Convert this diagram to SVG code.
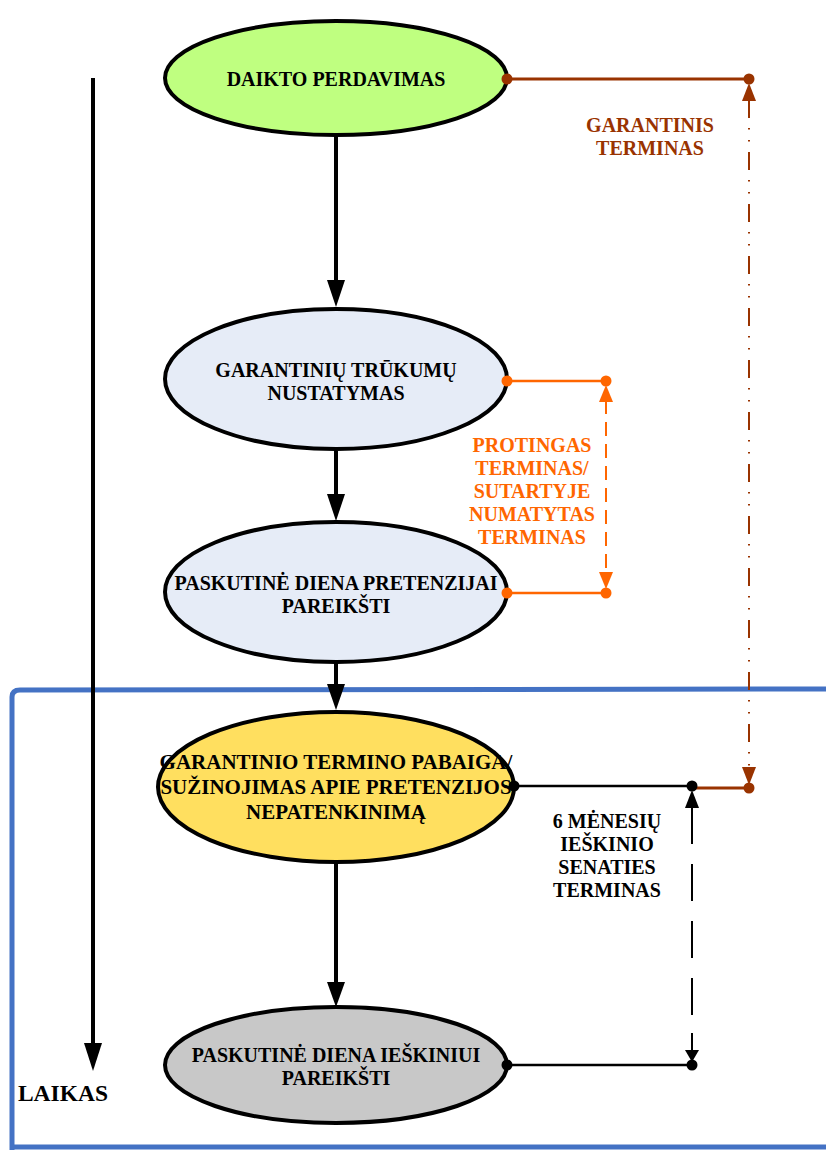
<svg xmlns="http://www.w3.org/2000/svg" width="826" height="1150" viewBox="0 0 826 1150">
<style>
.n{stroke:#000;stroke-width:4}
.t{font-family:"Liberation Serif",serif;font-weight:bold;font-size:20px;text-anchor:middle;fill:#000}
.lb{font-family:"Liberation Serif",serif;font-weight:bold;font-size:20px;text-anchor:middle}
.ar{stroke:#000;stroke-width:4;fill:none}
</style>
<rect width="826" height="1150" fill="#fff"/>
<g id="frame">
<path d="M12,1150 L12,697 Q12,690 20,690 L826,689" fill="none" stroke="#4472C4" stroke-width="5"/>
<path d="M12,1147 L826,1147" stroke="#4472C4" stroke-width="5"/>
</g>
<g id="timeline">
<line x1="93" y1="78" x2="93" y2="1045" stroke="#000" stroke-width="4"/>
<path d="M84,1043 L102,1043 L93,1071 Z" fill="#000"/>
<text x="63" y="1101" font-family="Liberation Serif,serif" font-weight="bold" font-size="23.5" text-anchor="middle">LAIKAS</text>
</g>
<g id="n1"><ellipse cx="336" cy="78" rx="171" ry="57" fill="#BFFF80" class="n"/><text class="t" x="336" y="86">DAIKTO PERDAVIMAS</text></g>
<g id="n2"><ellipse cx="336" cy="379" rx="171" ry="70" fill="#E6ECF7" class="n"/><text class="t"><tspan x="336" y="377">GARANTINIŲ TRŪKUMŲ</tspan><tspan x="336" y="400">NUSTATYMAS</tspan></text></g>
<g id="n3"><ellipse cx="336" cy="592" rx="171" ry="70" fill="#E6ECF7" class="n"/><text class="t"><tspan x="336" y="590">PASKUTINĖ DIENA PRETENZIJAI</tspan><tspan x="336" y="613">PAREIKŠTI</tspan></text></g>
<g id="n4"><ellipse cx="336" cy="787" rx="178" ry="75" fill="#FFDF5F" class="n"/><text class="t" style="font-size:21px"><tspan x="336" y="769">GARANTINIO TERMINO PABAIGA/</tspan><tspan x="336" y="794">SUŽINOJIMAS APIE PRETENZIJOS</tspan><tspan x="336" y="819">NEPATENKINIMĄ</tspan></text></g>
<g id="n5"><ellipse cx="336" cy="1065" rx="171" ry="58" fill="#C8C8C8" class="n"/><text class="t"><tspan x="336" y="1062">PASKUTINĖ DIENA IEŠKINIUI</tspan><tspan x="336" y="1085">PAREIKŠTI</tspan></text></g>
<g id="connectors">
<line x1="336" y1="137" x2="336" y2="282" class="ar"/><path d="M327,280 L345,280 L336,307 Z"/>
<line x1="336" y1="451" x2="336" y2="496" class="ar"/><path d="M327,494 L345,494 L336,521 Z"/>
<line x1="336" y1="663" x2="336" y2="688" class="ar"/><path d="M327,684 L345,684 L336,710 Z"/>
<line x1="336" y1="863" x2="336" y2="984" class="ar"/><path d="M327,982 L345,982 L336,1007 Z"/>
<g stroke="#993300" fill="#993300">
<line x1="507" y1="79" x2="749" y2="79" stroke-width="3"/>
<line x1="749" y1="100" x2="749" y2="768" stroke-width="2" stroke-dasharray="18 10 1.5 10.5 1.5 10.5"/>
<path d="M742,101 L756,101 L749,83 Z" stroke="none"/>
<path d="M742,767 L756,767 L749,785 Z" stroke="none"/>
<line x1="692" y1="788" x2="749" y2="788" stroke-width="3"/>
<circle cx="507" cy="79" r="5.5" stroke="none"/>
<circle cx="749" cy="79" r="5.5" stroke="none"/>
<circle cx="749" cy="788" r="5.5" stroke="none"/>
</g>
<g stroke="#FF6600" fill="#FF6600">
<line x1="507" y1="381" x2="606" y2="381" stroke-width="2.5"/>
<line x1="507" y1="593" x2="606" y2="593" stroke-width="2.5"/>
<line x1="606" y1="400" x2="606" y2="574" stroke-width="2" stroke-dasharray="14 8"/>
<path d="M599,402 L613,402 L606,385 Z" stroke="none"/>
<path d="M599,572 L613,572 L606,589 Z" stroke="none"/>
<circle cx="507" cy="381" r="5.5" stroke="none"/>
<circle cx="606" cy="381" r="5.5" stroke="none"/>
<circle cx="507" cy="593" r="5.5" stroke="none"/>
<circle cx="606" cy="593" r="5.5" stroke="none"/>
</g>
<g stroke="#000" fill="#000">
<line x1="514" y1="786" x2="692" y2="786" stroke-width="2.5"/>
<line x1="507" y1="1065" x2="692" y2="1065" stroke-width="2.5"/>
<line x1="692" y1="807" x2="692" y2="1045" stroke-width="2" stroke-dasharray="37 20"/>
<path d="M685,808 L699,808 L692,790 Z" stroke="none"/>
<path d="M685,1050 L699,1050 L692,1062 Z" stroke="none"/>
<line x1="692" y1="1033" x2="692" y2="1052" stroke-width="2"/>
<circle cx="514" cy="786" r="5.5" stroke="none"/>
<circle cx="692" cy="786" r="5.5" stroke="none"/>
<circle cx="507" cy="1065" r="5.5" stroke="none"/>
<circle cx="692" cy="1065" r="5.5" stroke="none"/>
</g>
<text class="lb" fill="#993300"><tspan x="650" y="132">GARANTINIS</tspan><tspan x="650" y="155">TERMINAS</tspan></text>
<text class="lb" fill="#FF6600"><tspan x="532" y="452">PROTINGAS</tspan><tspan x="532" y="475">TERMINAS/</tspan><tspan x="532" y="498">SUTARTYJE</tspan><tspan x="532" y="521">NUMATYTAS</tspan><tspan x="532" y="544">TERMINAS</tspan></text>
<text class="lb" fill="#000"><tspan x="607" y="828">6 MĖNESIŲ</tspan><tspan x="607" y="851">IEŠKINIO</tspan><tspan x="607" y="874">SENATIES</tspan><tspan x="607" y="897">TERMINAS</tspan></text>
</g>
</svg>
